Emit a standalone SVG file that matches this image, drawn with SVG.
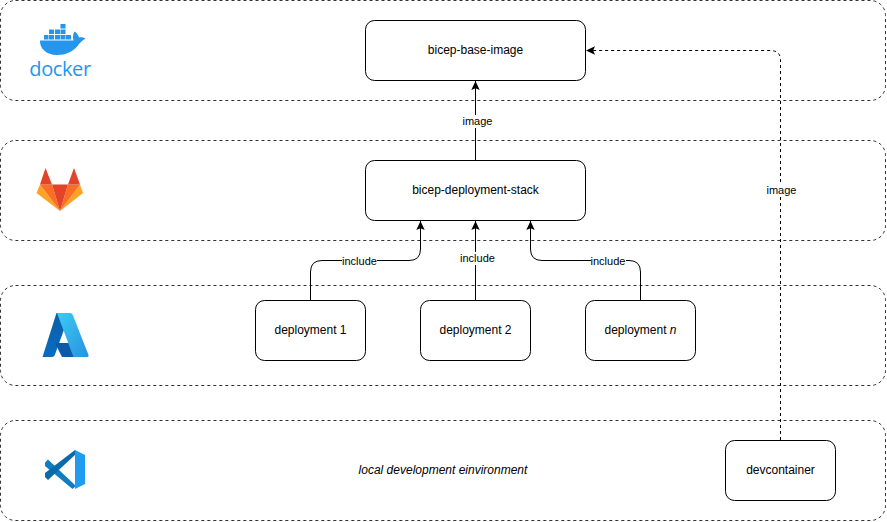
<svg xmlns="http://www.w3.org/2000/svg" width="887" height="522" viewBox="0 0 887 522">
<style>
.band{fill:#fff;stroke:#000;stroke-dasharray:3 3;stroke-opacity:.8}
.box{fill:#fff;stroke:#000;stroke-width:1}
text{font-family:"Liberation Sans",Arial,sans-serif;font-size:12px;fill:#000;text-anchor:middle}
.small{font-size:11px}
.edge{fill:none;stroke:#000;stroke-width:1}
.lbl{fill:#fff;stroke:none}
.dash{stroke-dasharray:3 3}
</style>
<defs>
<marker id="arrow" markerUnits="userSpaceOnUse" markerWidth="10" markerHeight="10" refX="9" refY="4.500" orient="auto"><path d="M0 0.300L9 4.500L0 8.700L1.800 4.500Z" fill="#000"/></marker>
<linearGradient id="az2" x1="0" y1="0" x2="1" y2="1"><stop offset="0" stop-color="#3ccbf4"/><stop offset="1" stop-color="#2892df"/></linearGradient>
<linearGradient id="az1" x1="0" y1="0" x2="0" y2="1"><stop offset="0" stop-color="#0b5ea8"/><stop offset="1" stop-color="#0a6cc0"/></linearGradient>
</defs>
<g id="band-docker"><rect class="band" x="0.5" y="0.5" width="885" height="100" rx="15"/>
<g fill="#2496ed"><path d="M39 44H79C81 42 83 40 85.500 38.500C83 37 80.500 37 79 37.500C78.500 35 76.500 32.500 74.500 31.500C73 34 72.500 37 73.500 40.500H40C39.500 48 46 55 57 55C68 55 75 50 79 44Z"/>
<rect x="49" y="35" width="5" height="4.500"/><rect x="55" y="35" width="5" height="4.500"/><rect x="60.500" y="35" width="5" height="4.500"/><rect x="66" y="35" width="5" height="4.500"/><rect x="49" y="29.500" width="5" height="4.500"/><rect x="55" y="29.500" width="5" height="4.500"/><rect x="60.500" y="29.500" width="5" height="4.500"/><rect x="60.500" y="24" width="5" height="4.500"/><rect x="44" y="35" width="4.500" height="4.500"/></g>
<text x="60" y="76" style="font-family:'Open Sans',sans-serif;font-size:20px;fill:#2496ed;letter-spacing:-.4px">docker</text></g>
<g id="band-gitlab"><rect class="band" x="0.5" y="140.500" width="885" height="100" rx="15"/>
<path d="M36.500 193L40 184.500L60 211Z" fill="#fca326"/><path d="M83 193L80 184.500L60 211Z" fill="#fca326"/>
<path d="M40 184.500H52L60 211Z" fill="#fc6d26"/><path d="M80 184.500H68L60 211Z" fill="#fc6d26"/>
<path d="M40 184.500L45.500 168L52 184.500Z" fill="#e24329"/><path d="M68 184.500L74 168L80 184.500Z" fill="#e24329"/><path d="M52 184.500H68L60 211Z" fill="#e24329"/></g>
<g id="band-azure"><rect class="band" x="0.5" y="285.500" width="885" height="100" rx="15"/>
<path d="M56.500 313H70L55 354.500C54.500 356 53.500 357 52 357H42.500L56.500 313Z" fill="url(#az1)"/>
<path d="M55 343H72L78 357H62L59 351Z" fill="#0d5ba8"/>
<path d="M57 313H70C71.500 313 72.500 314 73 315.500L88.500 355C89 356.500 88 357 87 357H73.500L57 313Z" fill="url(#az2)"/></g>
<g id="band-vscode"><rect class="band" x="0.500" y="420.500" width="885" height="100" rx="15"/>
<path d="M45 462.500L48 459.500L76 486L72.500 489L45 466Z" fill="#0e7dc4"/>
<path d="M45 477L48 480L76 454L75 450L45 473Z" fill="#0a6ba8"/>
<path d="M75 450L85 455V484L75 489Z" fill="#1f9cf0"/>
<text x="443" y="474" style="font-style:italic">local development einvironment</text></g>
<g id="connectors">
<path class="edge" d="M475.500 160V81" marker-end="url(#arrow)"/>
<rect class="lbl" x="461" y="115" width="33" height="13"/><text class="small" x="477.500" y="125">image</text>
<path class="edge" d="M310.500 300V272Q310.500 260.500 322 260.500H409Q420.500 260.500 420.500 249V221" marker-end="url(#arrow)"/>
<rect class="lbl" x="342" y="255" width="35" height="12"/><text class="small" x="359.500" y="265">include</text>
<path class="edge" d="M475.500 300V221" marker-end="url(#arrow)"/>
<rect class="lbl" x="460" y="252" width="35" height="13"/><text class="small" x="477.500" y="262">include</text>
<path class="edge" d="M640.500 300V272Q640.500 260.500 629 260.500H542Q530.500 260.500 530.500 249V221" marker-end="url(#arrow)"/>
<rect class="lbl" x="591" y="255" width="35" height="12"/><text class="small" x="608" y="265">include</text>
<path class="edge dash" d="M780.500 440V60Q780.500 50.500 770 50.500H586" marker-end="url(#arrow)"/>
<rect class="lbl" x="765" y="184" width="33" height="13"/><text class="small" x="781.500" y="194">image</text>
</g>
<g id="bicep-base-image"><rect class="box" x="365.500" y="20.500" width="220" height="60" rx="9"/><text x="475.500" y="54">bicep-base-image</text></g>
<g id="bicep-deployment-stack"><rect class="box" x="365.500" y="160.500" width="220" height="60" rx="9"/><text x="475.500" y="194">bicep-deployment-stack</text></g>
<g id="deployment-1"><rect class="box" x="255.500" y="300.500" width="110" height="60" rx="9"/><text x="310.500" y="334">deployment 1</text></g>
<g id="deployment-2"><rect class="box" x="420.500" y="300.500" width="110" height="60" rx="9"/><text x="475.500" y="334">deployment 2</text></g>
<g id="deployment-n"><rect class="box" x="585.500" y="300.500" width="110" height="60" rx="9"/><text x="640.500" y="334">deployment <tspan font-style="italic">n</tspan></text></g>
<g id="devcontainer"><rect class="box" x="725.500" y="440.500" width="110" height="60" rx="9"/><text x="780.500" y="474">devcontainer</text></g>
</svg>
